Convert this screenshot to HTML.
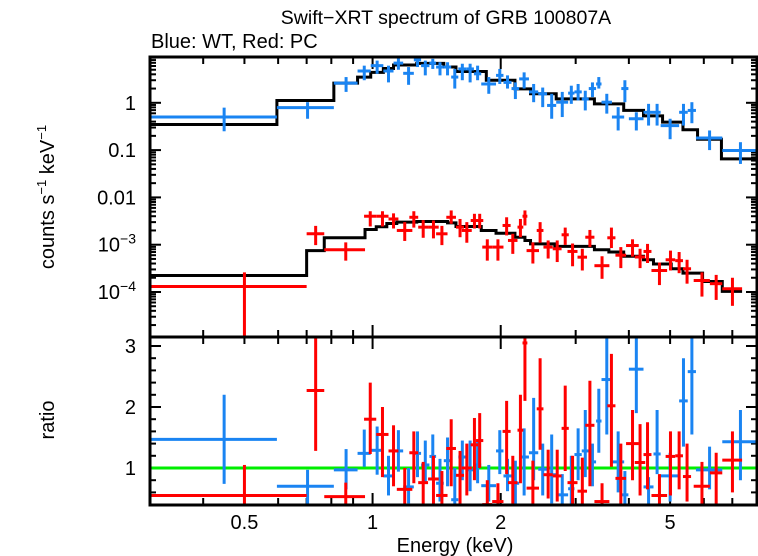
<!DOCTYPE html>
<html><head><meta charset="utf-8"><style>
html,body{margin:0;padding:0;background:#fff;}
svg{display:block;font-family:"Liberation Sans",sans-serif;}
</style></head><body>
<svg id="chart" width="758" height="556" viewBox="0 0 758 556">
<defs>
<clipPath id="clipTop"><rect x="150" y="57" width="607" height="280"/></clipPath>
<clipPath id="clipBot"><rect x="150" y="337" width="607" height="168"/></clipPath>
</defs>
<text x="446" y="24" font-size="19.5" text-anchor="middle">Swift−XRT spectrum of GRB 100807A</text>
<text x="151" y="48" font-size="20">Blue: WT, Red: PC</text>
<text x="455" y="552" font-size="20" text-anchor="middle">Energy (keV)</text>
<text transform="translate(54,197) rotate(-90)" font-size="20" text-anchor="middle">counts s<tspan font-size="13" dy="-8">−1</tspan><tspan dy="8"> keV</tspan><tspan font-size="13" dy="-8">−1</tspan></text>
<text transform="translate(54,420) rotate(-90)" font-size="20" text-anchor="middle">ratio</text>
<g id="gTicks"></g>
<g id="gTop" clip-path="url(#clipTop)"></g>
<g id="gBot" clip-path="url(#clipBot)"></g>
<rect x="150" y="57" width="607" height="280" fill="none" stroke="#000" stroke-width="3"/>
<rect x="150" y="337" width="607" height="168" fill="none" stroke="#000" stroke-width="3"/>
</svg>
<script>
const blueLo=[0.30,0.596,0.811,0.922,0.99,1.06,1.12,1.18,1.25,1.30,1.36,1.41,1.47,1.53,1.59,1.66,1.73,1.80,1.95,2.03,2.12,2.21,2.33,2.45,2.57,2.70,2.88,2.98,3.10,3.22,3.35,3.45,3.65,3.84,4.0,4.33,4.57,4.75,5.25,5.50,5.75,6.63];
const blueHi=[0.596,0.811,0.922,0.99,1.06,1.12,1.18,1.25,1.30,1.36,1.41,1.47,1.53,1.59,1.66,1.73,1.80,1.95,2.03,2.12,2.21,2.33,2.45,2.57,2.70,2.88,2.98,3.10,3.22,3.35,3.45,3.65,3.90,3.99,4.33,4.57,4.75,5.25,5.50,5.75,6.63,8.0];
const blueVal=[0.50,0.79,2.6,4.7,6.1,4.7,6.9,4.2,8.1,6.1,6.9,5.7,5.7,3.5,5.2,5.2,4.1,2.5,3.8,2.7,2.0,3.2,1.7,1.55,0.88,1.03,1.6,1.7,1.2,2.0,2.5,1.03,0.5,2.0,0.46,0.63,0.63,0.33,0.63,0.69,0.18,0.098];
const blueErrHi=[0.79,1.03,3.5,6.1,7.8,6.1,9.2,5.7,9.5,7.8,8.5,7.2,7.2,5.2,6.7,6.7,6.1,3.5,5.2,3.8,2.7,4.4,2.5,2.1,1.55,1.7,2.3,2.5,1.8,2.7,3.5,1.55,0.81,3.0,0.63,0.95,0.95,0.46,0.95,1.03,0.26,0.147];
const blueErrLo=[0.25,0.46,1.7,3.0,4.1,2.7,5.0,2.4,5.7,3.8,5.2,3.8,3.8,2.0,3.0,2.7,3.0,1.55,2.5,2.0,1.2,2.0,1.03,0.81,0.46,0.5,0.95,1.12,0.69,1.32,2.0,0.59,0.26,1.03,0.26,0.33,0.33,0.17,0.33,0.37,0.10,0.051];
const blueRatio=[1.47,0.70,0.97,1.24,1.29,0.87,1.28,0.69,1.24,1.05,1.19,0.75,1.12,0.48,1.18,0.97,1.05,0.71,1.28,0.87,0.75,1.18,1.25,0.98,0.89,0.56,0.66,1.22,1.28,1.10,1.77,2.45,1.10,0.56,2.62,0.69,1.23,0.87,2.10,2.58,0.97,1.43];
const blueRatioLo=[0.74,0.39,0.65,1.02,0.89,0.55,0.94,0.42,0.85,0.75,0.80,0.45,0.70,0.39,0.80,0.62,0.75,0.45,0.90,0.62,0.40,0.55,0.80,0.55,0.42,0.39,0.39,0.80,0.85,0.70,1.25,1.55,0.60,0.39,1.90,0.39,0.90,0.45,1.35,1.55,0.65,0.80];
const blueRatioHi=[2.20,0.97,1.31,1.63,1.68,1.20,1.62,1.00,1.60,1.45,1.55,1.15,1.50,1.00,1.45,1.45,1.45,1.05,1.62,1.15,1.12,1.65,2.15,1.40,1.55,0.90,1.20,1.65,1.95,1.40,2.30,3.16,1.60,0.95,3.16,0.85,1.95,1.25,2.80,3.16,1.35,1.95];
const blueModelEdges=[0.30,0.596,0.811,0.922,0.99,1.06,1.12,1.27,1.47,1.57,1.85,2.16,2.35,2.7,3.32,3.89,4.33,4.8,5.36,5.8,6.6,8.0];
const blueModelVals=[0.348,1.12,2.6,3.5,4.4,5.3,6.3,6.8,5.7,4.6,3.0,1.97,1.55,1.21,0.95,0.69,0.53,0.39,0.27,0.17,0.0653];

const redLo=[0.30,0.70,0.77,0.955,1.02,1.09,1.14,1.22,1.28,1.35,1.41,1.49,1.57,1.62,1.70,1.75,1.81,1.91,2.02,2.08,2.19,2.25,2.30,2.43,2.52,2.65,2.78,2.87,3.03,3.16,3.32,3.56,3.72,3.94,4.13,4.33,4.52,4.88,5.14,5.36,5.68,6.2,6.63];
const redHi=[0.70,0.77,0.96,1.02,1.09,1.15,1.24,1.28,1.35,1.43,1.50,1.57,1.64,1.71,1.77,1.82,1.91,2.03,2.11,2.19,2.26,2.31,2.46,2.52,2.65,2.78,2.89,3.03,3.19,3.32,3.60,3.72,3.94,4.22,4.37,4.52,4.92,5.14,5.36,5.60,6.2,6.63,7.38];
const redVal=[0.000131,0.0017,0.00078,0.0040,0.0040,0.0035,0.0020,0.0038,0.00235,0.00235,0.0017,0.0038,0.00235,0.0020,0.00325,0.00325,0.00089,0.00089,0.00255,0.00123,0.00235,0.0040,0.00075,0.0020,0.00089,0.00082,0.00162,0.00072,0.000545,0.00144,0.00036,0.0014,0.0006,0.00096,0.00055,0.00072,0.000285,0.00048,0.00046,0.00031,0.000175,0.00015,0.000117];
const redErrHi=[0.00026,0.0025,0.00112,0.0051,0.0051,0.0046,0.0030,0.0051,0.0033,0.00325,0.0025,0.0053,0.0035,0.0030,0.0045,0.0045,0.0013,0.0013,0.0038,0.0017,0.0035,0.0053,0.00112,0.0030,0.00123,0.00123,0.0023,0.00106,0.00082,0.00205,0.00057,0.0023,0.00089,0.0013,0.00082,0.00104,0.00042,0.00075,0.0007,0.00048,0.00026,0.00023,0.0002];
const redErrLo=[1e-6,0.00098,0.00046,0.00243,0.00243,0.0022,0.0012,0.0023,0.0014,0.00136,0.00098,0.00276,0.00144,0.0011,0.0022,0.0022,0.00046,0.00046,0.00157,0.00064,0.00144,0.00255,0.0004,0.0011,0.00051,0.00043,0.00099,0.00035,0.000285,0.00089,0.00019,0.00085,0.00032,0.00056,0.00032,0.00041,0.00014,0.000285,0.00025,0.00015,8e-5,6.8e-5,5.1e-5];
const redRatio=[0.55,2.27,0.53,1.80,1.55,1.28,0.65,1.25,0.76,0.82,0.55,1.32,0.88,1.00,1.38,1.45,0.40,0.45,1.60,0.76,1.62,3.05,0.67,1.97,0.89,0.87,1.65,0.76,0.62,1.70,0.45,2.02,0.83,1.40,1.09,1.22,0.55,1.19,1.20,0.86,0.70,0.92,1.13];
const redRatioLo=[0.39,1.28,0.39,1.23,0.85,0.70,0.39,0.75,0.39,0.39,0.39,0.70,0.39,0.55,0.80,1.00,0.39,0.39,0.90,0.39,0.75,2.10,0.39,1.30,0.50,0.45,0.95,0.39,0.39,0.70,0.39,1.02,0.40,0.80,0.55,0.65,0.39,0.55,0.65,0.45,0.39,0.39,0.60];
const redRatioHi=[1.05,3.16,0.76,2.40,2.00,1.70,1.00,1.60,1.10,1.20,0.95,1.80,1.28,1.40,1.82,1.90,0.80,0.75,2.10,1.20,2.20,3.16,1.12,2.80,1.30,1.30,2.35,1.20,1.17,2.43,0.75,2.87,1.40,1.95,1.72,1.75,0.90,1.60,1.60,1.40,1.10,1.25,1.60];
const redModelEdges=[0.30,0.70,0.77,0.96,1.02,1.08,1.14,1.27,1.50,1.57,1.80,1.95,2.16,2.28,2.35,2.68,3.32,3.59,3.89,4.33,4.57,5.03,5.36,5.96,6.63,7.38];
const redModelVals=[0.000223,0.00075,0.0014,0.0021,0.0024,0.0028,0.0030,0.0031,0.0029,0.00243,0.0020,0.00175,0.00144,0.00123,0.00104,0.00092,0.00078,0.0007,0.00057,0.00048,0.00039,0.00031,0.00025,0.000167,0.000103];

const xTickLabels=["0.5","1","2","5"];
const xTickValues=[0.5,1,2,5];
const yTopDecades=[1,0.1,0.01,0.001,0.0001];
const yTopLabels=["1","0.1","0.01","10|−3","10|−4"];
const yBotValues=[1,2,3];
const yBotLabels=["1","2","3"];

const NS="http://www.w3.org/2000/svg";
const X0=150,X1=757,XMIN=0.3,XMAX=8.0;
function xS(e){return X0+(Math.log10(e)-Math.log10(XMIN))/(Math.log10(XMAX)-Math.log10(XMIN))*(X1-X0);}
function yT(v){return 102.8-Math.log10(v)*47.3;}
function yB(r){return 468-(r-1)*61;}
function mk(tag,attrs,parent){const el=document.createElementNS(NS,tag);for(const k in attrs)el.setAttribute(k,attrs[k]);parent.appendChild(el);return el;}

const gT=document.getElementById('gTicks'),gTop=document.getElementById('gTop'),gBot=document.getElementById('gBot');
const BLUE="#1a84f2",RED="#ff0000";

function drawSeries(lo,hi,val,eLo,eHi,color,g,yf,name){
  for(let i=0;i<val.length;i++){
    const xc=xS((lo[i]+hi[i])/2),y=yf(val[i]);
    const h=mk('line',{x1:xS(lo[i]),x2:xS(hi[i]),y1:y,y2:y,stroke:color,'stroke-width':3},g);
    
    
    const v=mk('line',{x1:xc,x2:xc,y1:yf(eHi[i]),y2:yf(eLo[i]),stroke:color,'stroke-width':3},g);
    
    
  }
}
function drawModel(edges,vals,g,name){
  let d="";
  for(let i=0;i<vals.length;i++){
    const y=yT(vals[i]);
    d+=(i===0?"M":"L")+xS(edges[i])+","+y+" L"+xS(edges[i+1])+","+y+" ";
  }
  const p=mk('path',{d:d,fill:'none',stroke:'#000','stroke-width':3},g);
  
  
}
drawModel(blueModelEdges,blueModelVals,gTop,'wt-model-line');
drawModel(redModelEdges,redModelVals,gTop,'pc-model-line');
drawSeries(blueLo,blueHi,blueVal,blueErrLo,blueErrHi,BLUE,gTop,yT,'wt-data-point');
drawSeries(redLo,redHi,redVal,redErrLo,redErrHi,RED,gTop,yT,'pc-data-point');
const gl=mk('line',{x1:X0,x2:X1,y1:yB(1),y2:yB(1),stroke:'#00ee00','stroke-width':3},gBot);


drawSeries(blueLo,blueHi,blueRatio,blueRatioLo,blueRatioHi,BLUE,gBot,yB,'wt-ratio-point');
drawSeries(redLo,redHi,redRatio,redRatioLo,redRatioHi,RED,gBot,yB,'pc-ratio-point');

const minorX=[0.3,0.4,0.5,0.6,0.7,0.8,0.9,1,2,3,4,5,6,7,8];
[[57,1],[337,-1],[337,1],[505,-1]].forEach(([y0,dir])=>{
  minorX.forEach(e=>{
    const len=(e===1||e===2)?12:7;const x=xS(e);
    const t=mk('line',{x1:x,x2:x,y1:y0,y2:y0+dir*len,stroke:'#000','stroke-width':2},gT);
    
    
  });
});
xTickValues.forEach((v,i)=>{
  const t=mk('text',{x:xS(v),y:529,'font-size':20,'text-anchor':'middle'},gT);
  t.textContent=xTickLabels[i];
  
  
});
for(let d=-5;d<=0;d++){
  for(let m=1;m<10;m++){
    const v=m*Math.pow(10,d);const y=yT(v);
    if(y<57||y>337)continue;
    const len=m===1?11:6;
    [[X0,1],[X1,-1]].forEach(([x0,dir])=>{
      const t=mk('line',{x1:x0,x2:x0+dir*len,y1:y,y2:y,stroke:'#000','stroke-width':2},gT);
      
      
    });
  }
}
yTopDecades.forEach((v,i)=>{
  const t=mk('text',{x:136,y:yT(v)+7,'font-size':20,'text-anchor':'end'},gT);
  const parts=yTopLabels[i].split('|');
  if(parts.length===1)t.textContent=parts[0];
  else{t.textContent=parts[0];const s=mk('tspan',{'font-size':14,dy:-8},t);s.textContent=parts[1];}
  
  
});
for(let k=0;k<=15;k++){
  const r=0.4+k*0.2;const y=yB(r);
  if(y<337||y>505)continue;
  const major=Math.abs(r-Math.round(r))<0.01;
  [[X0,1],[X1,-1]].forEach(([x0,dir])=>{
    const t=mk('line',{x1:x0,x2:x0+dir*(major?11:6),y1:y,y2:y,stroke:'#000','stroke-width':2},gT);
    
    
  });
}
yBotValues.forEach((v,i)=>{
  const t=mk('text',{x:136,y:yB(v)+7,'font-size':20,'text-anchor':'end'},gT);
  t.textContent=yBotLabels[i];
  
  
});
</script>
</body></html>
